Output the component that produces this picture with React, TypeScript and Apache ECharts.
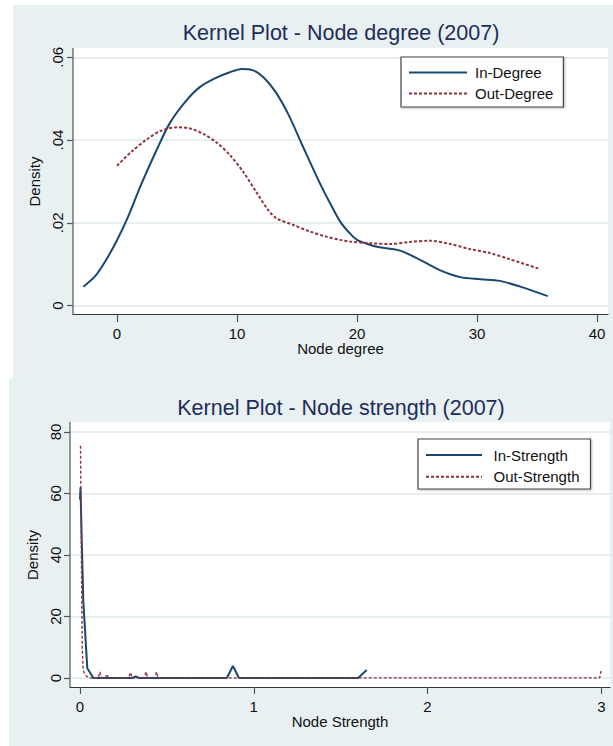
import React, { useEffect, useRef } from "react";
import * as echarts from "echarts";

// ---------- data ----------
const titles = ["Kernel Plot - Node degree (2007)", "Kernel Plot - Node strength (2007)"];
const seriesNames = ["In-Degree", "Out-Degree", "In-Strength", "Out-Strength"];
const axisNames = ["Node degree", "Node Strength", "Density"];

const degreeTicks = [0, 10, 20, 30, 40];
const strengthTicks = [0, 1, 2, 3];

const inDegreeX = [-2.8, -1.8, -1.0, 0, 1, 2, 3.3, 4.4, 5.7, 6.9, 8.3, 9.4, 10.4, 11.3, 12.2, 13.2, 14.3, 15.5, 16.9, 17.8, 18.6, 19.3, 20.0, 21.0, 21.9, 23.6, 25.3, 26.9, 28.6, 30.3, 31.9, 33.6, 35.9];
const inDegreeY = [0.0046, 0.0072, 0.0106, 0.0158, 0.022, 0.0292, 0.0376, 0.0441, 0.0493, 0.0528, 0.0551, 0.0564, 0.0572, 0.0569, 0.0552, 0.0517, 0.0461, 0.0384, 0.0296, 0.0245, 0.0203, 0.0178, 0.0159, 0.0148, 0.0141, 0.0133, 0.011, 0.0086, 0.0069, 0.0064, 0.006, 0.0046, 0.0023];

const outDegreeX = [0, 1.2, 2.5, 3.7, 5.0, 6.1, 7.2, 8.3, 9.4, 10.5, 11.6, 12.6, 13.3, 14.7, 16.1, 17.4, 18.6, 19.4, 21.1, 22.75, 24.4, 26.1, 27.75, 29.4, 31.1, 32.75, 35.1];
const outDegreeY = [0.0338, 0.0372, 0.0402, 0.0423, 0.0431, 0.0428, 0.0415, 0.0394, 0.0364, 0.0324, 0.0275, 0.0231, 0.0211, 0.0195, 0.0179, 0.0167, 0.0159, 0.0155, 0.0151, 0.0149, 0.0154, 0.0157, 0.0149, 0.0137, 0.0127, 0.0112, 0.009];

const inStrengthX = [0, 0.003, 0.01, 0.019, 0.042, 0.077, 0.3, 0.32, 0.34, 0.845, 0.88, 0.915, 1.6, 1.65];
const inStrengthY = [58, 62, 45, 25, 3.2, 0, 0, 0.5, 0, 0, 3.9, 0, 0, 2.6];

const outStrengthX = [0.003, 0.008, 0.013, 0.018, 0.03, 0.05, 0.105, 0.115, 0.125, 0.145, 0.155, 0.165, 0.28, 0.29, 0.3, 0.37, 0.38, 0.39, 0.43, 0.44, 0.45, 2.99, 3.0];
const outStrengthY = [75.5, 40, 10, 2.5, 1.0, 0, 0, 2, 0, 0, 1.2, 0, 0, 1.8, 0, 0, 2, 0, 0, 2, 0, 0, 2.5];

// ---------- styling ----------
const NAVY = "#1a476f";
const MAROON = "#90353b";
const PANEL = "#e8f0f2";
const GRIDLINE = "#e6eef0";
const FONT = "'Liberation Sans', Arial, Helvetica, sans-serif";
const TITLE_COLOR = "#1e2d5c";

const zip = (xs: number[], ys: number[]) => xs.map((x, i) => [x, ys[i]]);

const fmtDensity = (v: number) => {
  if (Math.abs(v) < 1e-9) return "0";
  return v.toFixed(2).replace(/^0/, "");
};

export default function App() {
  const ref = useRef<HTMLDivElement>(null);

  useEffect(() => {
    if (!ref.current) return;
    const chart = echarts.init(ref.current, undefined, { renderer: "svg" });

    const tickLabel = { fontSize: 15, color: "#111", fontFamily: FONT };
    const nameStyle = { fontSize: 15, color: "#111", fontFamily: FONT };

    const legendBase = {
      orient: "vertical",
      itemHeight: 17,
      borderColor: "#444",
      borderWidth: 1.2,
      backgroundColor: "#ffffff",
      shadowColor: "rgba(0,0,0,0.25)",
      shadowBlur: 2,
      shadowOffsetX: 1,
      shadowOffsetY: 1,
      itemStyle: { opacity: 0 },
    };

    const option: any = {
      animation: false,
      backgroundColor: "#ffffff",
      textStyle: { fontFamily: FONT },
      graphic: [
        { type: "rect", z: -10, silent: true, shape: { x: 13, y: 5, width: 600, height: 374 }, style: { fill: PANEL } },
        { type: "rect", z: -10, silent: true, shape: { x: 9, y: 379, width: 604, height: 367 }, style: { fill: PANEL } },
        { type: "rect", z: -9, silent: true, shape: { x: 73, y: 48, width: 535, height: 266 }, style: { fill: "#ffffff" } },
        { type: "rect", z: -9, silent: true, shape: { x: 70, y: 422, width: 540, height: 265 }, style: { fill: "#ffffff" } },
        { type: "line", z: 10, silent: true, shape: { x1: 73, y1: 48, x2: 73, y2: 314 }, style: { stroke: "#555", lineWidth: 1.2 } },
        { type: "line", z: 10, silent: true, shape: { x1: 70, y1: 422, x2: 70, y2: 687 }, style: { stroke: "#555", lineWidth: 1.2 } },
        {
          type: "text", z: 10, x: 341, y: 33,
          style: { text: titles[0], fontSize: 21.5, fontFamily: FONT, fill: TITLE_COLOR, textAlign: "center", textVerticalAlign: "middle" },
        },
        {
          type: "text", z: 10, x: 341, y: 408,
          style: { text: titles[1], fontSize: 21.5, fontFamily: FONT, fill: TITLE_COLOR, textAlign: "center", textVerticalAlign: "middle" },
        },
      ],
      legend: [
        {
          ...legendBase,
          data: [seriesNames[0], seriesNames[1]],
          left: 401,
          top: 57,
          padding: [7, 10, 5, 7],
          itemGap: 4,
          itemWidth: 58,
          textStyle: { fontSize: 15, color: "#111", fontFamily: FONT, lineHeight: 17, padding: [0, 0, 0, 3] },
        },
        {
          ...legendBase,
          data: [seriesNames[2], seriesNames[3]],
          left: 418,
          top: 439,
          padding: [7.5, 11, 3.8, 7],
          itemGap: 4.7,
          itemWidth: 56,
          textStyle: { fontSize: 15, color: "#111", fontFamily: FONT, lineHeight: 17, padding: [0, 0, 0, 6.6] },
        },
      ],
      grid: [
        { left: 73, right: 5, top: 57.3, bottom: 746 - 305.7 },
        { left: 70, right: 3, top: 432, bottom: 746 - 678 },
      ],
      xAxis: [
        {
          type: "value",
          gridIndex: 0,
          min: -3.667,
          max: 40.917,
          offset: 8.3,
          axisLine: { show: true, onZero: false, lineStyle: { color: "#333", width: 1.2 } },
          axisTick: { show: true, length: 8, customValues: degreeTicks, lineStyle: { color: "#555", width: 1.2 } },
          axisLabel: { customValues: degreeTicks, margin: 11.5, ...tickLabel },
          splitLine: { show: false },
          name: axisNames[0],
          nameLocation: "middle",
          nameGap: 26,
          nameTextStyle: nameStyle,
        },
        {
          type: "value",
          gridIndex: 1,
          min: -0.0575,
          max: 3.05,
          offset: 9,
          axisLine: { show: true, onZero: false, lineStyle: { color: "#333", width: 1.2 } },
          axisTick: { show: true, length: 7, customValues: strengthTicks, lineStyle: { color: "#555", width: 1.2 } },
          axisLabel: { customValues: strengthTicks, margin: 11.5, ...tickLabel },
          splitLine: { show: false },
          name: axisNames[1],
          nameLocation: "middle",
          nameGap: 25,
          nameTextStyle: nameStyle,
        },
      ],
      yAxis: [
        {
          type: "value",
          gridIndex: 0,
          min: 0,
          max: 0.06,
          interval: 0.02,
          axisLine: { show: false, onZero: false },
          axisTick: { show: true, length: 6, lineStyle: { color: "#555", width: 1.2 } },
          axisLabel: { rotate: 90, margin: 8, formatter: fmtDensity, ...tickLabel },
          splitLine: { show: true, lineStyle: { color: GRIDLINE, width: 2 } },
          name: axisNames[2],
          nameLocation: "middle",
          nameGap: 26,
          nameTextStyle: nameStyle,
        },
        {
          type: "value",
          gridIndex: 1,
          min: 0,
          max: 80,
          interval: 20,
          axisLine: { show: false, onZero: false },
          axisTick: { show: true, length: 6, lineStyle: { color: "#555", width: 1.2 } },
          axisLabel: { rotate: 90, margin: 7, ...tickLabel },
          splitLine: { show: true, lineStyle: { color: GRIDLINE, width: 2 } },
          name: axisNames[2],
          nameLocation: "middle",
          nameGap: 26,
          nameTextStyle: nameStyle,
        },
      ],
      series: [
        {
          name: seriesNames[0],
          type: "line",
          xAxisIndex: 0,
          yAxisIndex: 0,
          data: zip(inDegreeX, inDegreeY),
          symbol: "none",
          smooth: 0.3,
          lineStyle: { color: NAVY, width: 2 },
          itemStyle: { color: NAVY },
        },
        {
          name: seriesNames[1],
          type: "line",
          xAxisIndex: 0,
          yAxisIndex: 0,
          data: zip(outDegreeX, outDegreeY),
          symbol: "none",
          smooth: 0.3,
          lineStyle: { color: MAROON, width: 2, type: [3, 2] },
          itemStyle: { color: MAROON },
        },
        {
          name: seriesNames[2],
          type: "line",
          xAxisIndex: 1,
          yAxisIndex: 1,
          data: zip(inStrengthX, inStrengthY),
          symbol: "none",
          lineStyle: { color: NAVY, width: 2 },
          itemStyle: { color: NAVY },
        },
        {
          name: seriesNames[3],
          type: "line",
          xAxisIndex: 1,
          yAxisIndex: 1,
          data: zip(outStrengthX, outStrengthY),
          symbol: "none",
          lineStyle: { color: MAROON, width: 1.4, type: [3, 2] },
          itemStyle: { color: MAROON },
        },
      ],
    };

    chart.setOption(option);
    return () => chart.dispose();
  }, []);

  return (
    <div
      ref={ref}
      style={{ position: "absolute", left: 0, top: 0, width: 613, height: 746 }}
    />
  );
}
